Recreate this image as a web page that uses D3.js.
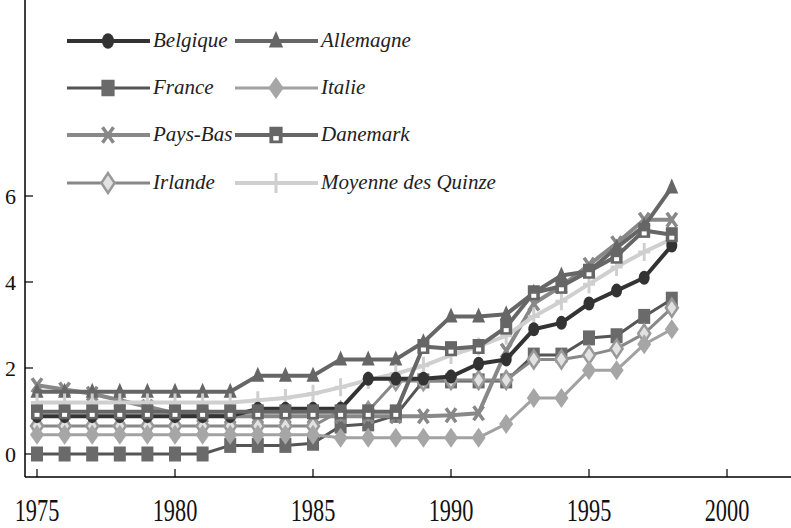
<!DOCTYPE html>
<html><head><meta charset="utf-8">
<script src="https://cdn.jsdelivr.net/npm/d3@7"></script>
<style>body{margin:0;background:#fff}svg{display:block}</style>
</head><body>
<svg id="c" width="791" height="528"></svg>
<script>
const years = d3.range(1975, 1999);
const seriesNames = ["Belgique","Allemagne","France","Italie","Pays-Bas","Danemark","Irlande","Moyenne des Quinze"];
const belgique  = [0.88,0.88,0.88,0.88,0.88,0.88,0.88,0.88,1.05,1.05,1.05,1.05,1.75,1.75,1.75,1.8,2.1,2.2,2.9,3.05,3.5,3.8,4.1,4.85];
const allemagne = [1.45,1.45,1.45,1.45,1.45,1.45,1.45,1.45,1.82,1.82,1.82,2.2,2.2,2.2,2.6,3.2,3.2,3.25,3.75,4.15,4.25,4.8,5.3,6.2];
const france    = [0,0,0,0,0,0,0,0.2,0.2,0.2,0.25,0.65,0.7,0.9,1.7,1.7,1.7,1.7,2.3,2.3,2.7,2.75,3.2,3.6];
const italie    = [0.45,0.45,0.45,0.45,0.45,0.45,0.45,0.45,0.45,0.45,0.45,0.38,0.38,0.38,0.38,0.38,0.38,0.7,1.3,1.3,1.95,1.95,2.55,2.9];
const paysBas   = [1.6,1.5,1.4,1.25,1.1,0.95,0.9,0.88,0.88,0.88,0.88,0.88,0.88,0.88,0.88,0.9,0.95,2.4,3.5,3.9,4.4,4.9,5.45,5.45];
const danemark  = [0.98,0.98,0.98,0.98,0.98,0.98,0.98,0.98,0.98,0.98,0.98,0.98,0.98,0.98,2.5,2.45,2.5,2.95,3.75,3.9,4.25,4.6,5.2,5.1];
const irlande   = [0.65,0.65,0.65,0.65,0.65,0.65,0.65,0.65,0.65,0.65,0.65,1.0,1.0,1.7,1.7,1.72,1.72,1.72,2.2,2.2,2.3,2.45,2.8,3.4];
const moyenne   = [1.2,1.2,1.2,1.2,1.2,1.2,1.2,1.2,1.25,1.3,1.4,1.55,1.72,1.87,2.05,2.3,2.5,2.75,3.2,3.55,3.95,4.35,4.7,5.0];
const xTicks = [1975,1980,1985,1990,1995,2000];
const yTicks = [0,2,4,6];

const FONT = "'Liberation Serif', 'Times New Roman', serif";
const svg = d3.select("#c");
const x = d3.scaleLinear().domain([1975,2000]).range([37,727]);
const y = d3.scaleLinear().domain([0,6]).range([454,196]);
const X0 = 25, Y0 = 477;

const styles = {
  "Belgique":  {data:belgique,  line:"#333", w:4, mk:"circle"},
  "Allemagne": {data:allemagne, line:"#666", w:4, mk:"triangle"},
  "France":    {data:france,    line:"#555", w:3, mk:"squareDot"},
  "Italie":    {data:italie,    line:"#a2a2a2", w:3, mk:"diamond"},
  "Pays-Bas":  {data:paysBas,   line:"#888", w:4, mk:"x"},
  "Danemark":  {data:danemark,  line:"#666", w:4, mk:"squareHole"},
  "Irlande":   {data:irlande,   line:"#888", w:3, mk:"diamondHollow"},
  "Moyenne des Quinze": {data:moyenne, line:"#cfcfcf", w:4, mk:"plus"}
};

function marker(g, type, cx, cy, s) {
  s = s || 1;
  if (type === "circle") {
    g.append("ellipse").attr("cx",cx).attr("cy",cy).attr("rx",5.5*s).attr("ry",7*s).attr("fill","#333");
  } else if (type === "triangle") {
    g.append("path").attr("d",`M${cx},${cy-9*s}L${cx+6.5*s},${cy+6*s}L${cx-6.5*s},${cy+6*s}Z`).attr("fill","#666");
  } else if (type === "squareDot") {
    g.append("rect").attr("x",cx-6*s).attr("y",cy-7.5*s).attr("width",12*s).attr("height",15*s).attr("fill","#6a6a6a");
  } else if (type === "squareHole") {
    g.append("rect").attr("x",cx-6*s).attr("y",cy-7.5*s).attr("width",12*s).attr("height",15*s).attr("fill","#666");
    g.append("rect").attr("x",cx-2.5*s).attr("y",cy+1*s).attr("width",5*s).attr("height",4*s).attr("fill","#fff");
  } else if (type === "diamond") {
    g.append("path").attr("d",`M${cx},${cy-10*s}L${cx+7*s},${cy}L${cx},${cy+10*s}L${cx-7*s},${cy}Z`).attr("fill","#a6a6a6");
  } else if (type === "diamondHollow") {
    g.append("path").attr("d",`M${cx},${cy-9*s}L${cx+6*s},${cy}L${cx},${cy+9*s}L${cx-6*s},${cy}Z`).attr("fill","#e2e2e2").attr("stroke","#999").attr("stroke-width",2.5);
  } else if (type === "x") {
    g.append("path").attr("d",`M${cx-5*s},${cy-7*s}L${cx+5*s},${cy+7*s}M${cx+5*s},${cy-7*s}L${cx-5*s},${cy+7*s}`).attr("stroke","#888").attr("stroke-width",3.5).attr("fill","none");
  } else if (type === "plus") {
    g.append("path").attr("d",`M${cx},${cy-9*s}L${cx},${cy+9*s}M${cx-6*s},${cy}L${cx+6*s},${cy}`).attr("stroke","#cfcfcf").attr("stroke-width",3).attr("fill","none");
  }
}

// axes
svg.append("line").attr("x1",X0).attr("x2",X0).attr("y1",0).attr("y2",Y0).attr("stroke","#000").attr("stroke-width",1.5);
svg.append("line").attr("x1",X0).attr("x2",791).attr("y1",Y0).attr("y2",Y0).attr("stroke","#000").attr("stroke-width",1.5);
yTicks.forEach(t => {
  svg.append("line").attr("x1",X0).attr("x2",X0+8).attr("y1",y(t)).attr("y2",y(t)).attr("stroke","#000").attr("stroke-width",1.2);
  svg.append("text").attr("x",16).attr("y",y(t)+8).attr("text-anchor","end")
    .attr("font-family",FONT).attr("font-size",22).attr("fill","#111").text(t);
});
xTicks.forEach(t => {
  svg.append("line").attr("x1",x(t)).attr("x2",x(t)).attr("y1",Y0).attr("y2",Y0-8).attr("stroke","#000").attr("stroke-width",1.2);
  svg.append("text").attr("transform",`translate(${x(t)},${521}) scale(0.72,1)`).attr("text-anchor","middle")
    .attr("font-family",FONT).attr("font-size",31).attr("fill","#111").text(t);
});

const order = ["France","Pays-Bas","Irlande","Italie","Allemagne","Moyenne des Quinze","Belgique","Danemark"];
const line = d3.line().x((d,i)=>x(years[i])).y(d=>y(d));
order.forEach(name => {
  const st = styles[name];
  const g = svg.append("g");
  g.append("path").datum(st.data).attr("d",line).attr("fill","none").attr("stroke",st.line).attr("stroke-width",st.w).attr("stroke-linejoin","round");
  st.data.forEach((v,i)=>marker(g, st.mk, x(years[i]), y(v)));
});

// legend
const legX = [67, 235], legY = [41, 88, 135, 183];
seriesNames.forEach((name,i) => {
  const st = styles[name];
  const lx = legX[i%2], ly = legY[Math.floor(i/2)];
  const g = svg.append("g");
  g.append("line").attr("x1",lx).attr("x2",lx+83).attr("y1",ly).attr("y2",ly).attr("stroke",st.line).attr("stroke-width",st.w);
  marker(g, st.mk, lx+41, ly, 1.1);
  g.append("text").attr("x",lx+86).attr("y",ly+6).attr("font-family",FONT)
    .attr("font-style","italic").attr("font-size",21).attr("fill","#222").text(name);
});
</script>
</body></html>
